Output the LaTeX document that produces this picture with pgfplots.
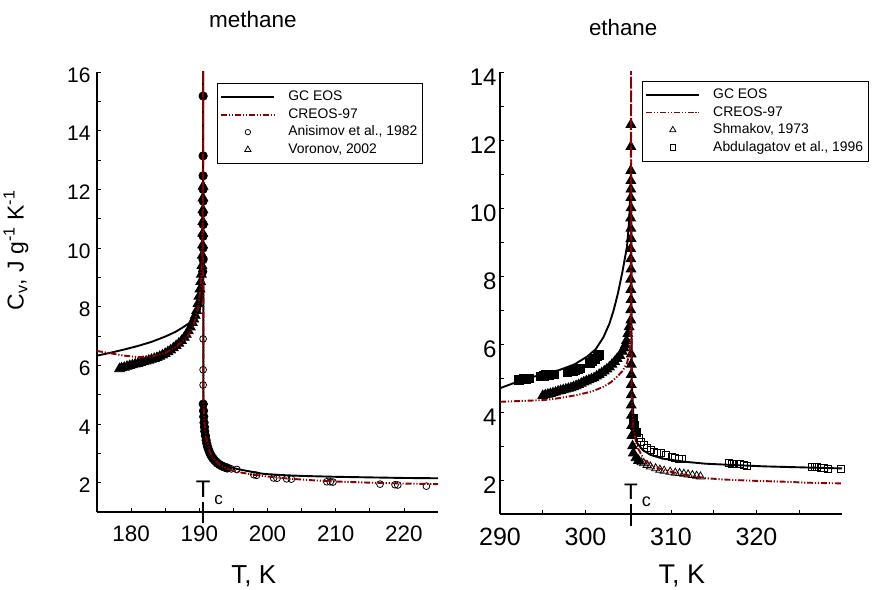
\documentclass[border=0pt]{standalone}
\usepackage{pgfplots}
\pgfplotsset{compat=1.18}
\usepackage{fontspec}
\setmainfont{Liberation Sans}
\definecolor{creos}{RGB}{140,0,0}
\begin{document}
\begin{tikzpicture}
\path[use as bounding box] (0pt,0pt) rectangle (875pt,589pt);
\pgfplotsset{
  every axis/.append style={
    scale only axis, axis lines=left, axis line style={-, line width=1.6pt},
    tick align=inside, major tick length=4pt, minor tick length=4pt,
    every tick/.style={line width=0.8pt, black},
    clip mode=individual,
    /pgf/number format/assume math mode=true,
    legend cell align=left,
    legend image code/.code={\draw[mark repeat=2,mark phase=2,##1] plot coordinates {(0pt,0pt) (26.5pt,0pt) (53pt,0pt)};},
  },
  gc/.style={black, line width=1.9pt, mark=none},
  cr/.style={creos, line width=1.9pt, mark=none, dash pattern=on 6pt off 1.8pt on 1.2pt off 1.8pt on 1.2pt off 1.8pt},
  circ/.style={only marks, mark=o, mark size=3.4pt, mark options={line width=0.8pt, black}, black},
  tri/.style={only marks, mark=triangle, mark size=4.7pt, mark options={line width=0.8pt, black}, black},
  sq/.style={only marks, mark=square, mark size=3.5pt, mark options={line width=0.8pt, black}, black},
  fcirc/.style={only marks, mark=*, mark size=4.2pt, mark options={line width=0.8pt, draw=black, fill=black}, black},
  ftri/.style={only marks, mark=triangle*, mark size=5.6pt, mark options={line width=0.8pt, draw=black, fill=black}, black},
  fsq/.style={only marks, mark=square*, mark size=4.3pt, mark options={line width=0.8pt, draw=black, fill=black}, black},
  leg/.style={draw=black, line width=0.8pt, font=\fontsize{13.9}{16}\selectfont,
    inner xsep=3pt, inner ysep=5pt, row sep=0pt,
    nodes={inner ysep=2pt, text height=10.5pt, text depth=3pt}},
}
% ---------------- methane ----------------
\begin{axis}[
  at={(97pt,77pt)}, anchor=south west, width=341pt, height=440pt,
  xmin=175, xmax=225, ymin=1, ymax=16,
  xtick={180,190,200,210,220}, minor xtick={185,195,205,215},
  ytick={2,4,...,16}, minor ytick={3,5,...,15},
  xticklabel style={font=\fontsize{22.4}{24}\selectfont, yshift=-10.5pt},
  yticklabel style={font=\fontsize{21}{24}\selectfont, xshift=-3pt, yshift=-3pt},
  title={methane}, title style={at={(axis description cs:0.457,1.105)}, anchor=center, font=\fontsize{22.5}{24}\selectfont},
  xlabel={T, K}, xlabel style={at={(axis description cs:0.46,-0.1636)}, anchor=base, font=\fontsize{26}{28}\selectfont},
  ylabel={C\textsubscript{v}, J g\textsuperscript{-1} K\textsuperscript{-1}},
  ylabel style={at={(axis description cs:-0.2375,0.595)}, anchor=center, font=\fontsize{23}{26}\selectfont},
  legend style={leg, at={(0.352,0.975)}, anchor=north west},
]
\addlegendimage{gc}\addlegendentry{\hspace{11pt}GC EOS}
\addlegendimage{cr}\addlegendentry{\hspace{11pt}CREOS-97}
\addlegendimage{circ, mark size=2.7pt}\addlegendentry{\hspace{11pt}Anisimov et al., 1982}
\addlegendimage{tri, mark size=3.6pt}\addlegendentry{\hspace{11pt}Voronov, 2002}
% Voronov, 2002 (dense, overlapping)
\addplot[ftri, forget plot] coordinates {
(178.3,5.88)(178.6,5.91)(179.0,5.93)(179.4,5.96)(179.8,5.99)(180.2,6.01)(180.6,6.04)(181.0,6.06)
(181.4,6.09)(181.8,6.12)(182.2,6.14)(182.6,6.17)(183.0,6.20)(183.4,6.23)(183.8,6.26)(184.2,6.30)
(184.6,6.35)(185.0,6.40)(185.4,6.46)(185.8,6.52)(186.2,6.59)(186.6,6.67)(187.0,6.75)(187.4,6.84)
(187.8,6.95)(188.1,7.05)(188.4,7.17)(188.7,7.30)(189.0,7.45)(189.2,7.57)(189.4,7.70)(189.6,7.86)
(189.8,8.10)(189.95,8.35)(190.1,8.60)(190.2,8.85)(190.3,9.10)(190.38,9.40)(190.44,9.75)(190.48,10.1)
(190.5,10.5)(190.52,10.9)(190.53,11.3)(190.54,11.7)(190.55,12.1)
};
% Anisimov et al., 1982 (dense part)
\addplot[fcirc, forget plot] coordinates {
(190.56,15.18)(190.56,13.14)(190.56,12.46)(190.56,12.0)(190.57,11.6)(190.55,11.2)(190.57,10.8)
(190.56,10.4)(190.55,10.0)(190.55,9.6)(190.5,9.2)(190.58,4.68)
(190.62,4.45)(190.65,4.25)(190.7,4.05)(190.75,3.9)(190.8,3.75)(190.9,3.6)(191.0,3.45)(191.1,3.33)
(191.2,3.23)(191.35,3.13)(191.5,3.04)(191.65,2.96)(191.8,2.90)(192.0,2.83)(192.2,2.77)(192.45,2.71)
(192.7,2.66)(193.0,2.61)(193.3,2.57)(193.7,2.53)(194.1,2.50)
};
% Anisimov et al., 1982 (separate points)
\addplot[circ, forget plot] coordinates {
(190.56,6.9)(190.56,5.85)(190.56,5.33)(194.7,2.47)(195.5,2.45)
(198.0,2.27)(198.4,2.25)(200.9,2.16)(201.4,2.15)(202.8,2.13)(203.5,2.12)(208.7,2.03)(209.2,2.03)
(209.6,2.02)(216.5,1.95)(218.7,1.93)(219.1,1.92)(223.3,1.88)
};
% GC EOS
\addplot[gc, forget plot] coordinates {
(175,6.33)(177,6.43)(179,6.54)(181,6.66)(183,6.80)(185,6.98)(186.5,7.14)(187.5,7.28)(188.6,7.45)
(189.5,7.65)(190.1,7.90)(190.35,8.4)(190.48,9.5)(190.54,12)(190.56,17)(190.6,4.7)(190.7,4.25)
(190.8,3.95)(191.0,3.6)(191.3,3.28)(191.7,3.04)(192.2,2.86)(193,2.69)(194,2.57)(195.5,2.47)
(197,2.40)(199.4,2.30)(202,2.26)(205,2.23)(210,2.20)(215,2.18)(220,2.16)(225,2.15)
};
% CREOS-97
\addplot[cr, forget plot] coordinates {
(175,6.49)(177,6.41)(179,6.33)(181,6.28)(183,6.30)(185,6.42)(186.5,6.62)(188.2,6.94)(189.2,7.40)
(189.8,7.95)(190.2,8.7)(190.4,9.7)(190.5,11.3)(190.55,14)(190.56,17)(190.6,5.0)(190.7,4.3)
(190.8,3.95)(191,3.55)(191.5,3.08)(192,2.84)(193,2.60)(194.5,2.44)(196,2.35)(198,2.27)(200,2.21)
(203,2.14)(206,2.09)(210,2.04)(215,2.00)(220,1.97)(225,1.95)
};
\draw[line width=1.5pt] (axis cs:190.56,0.615) -- (axis cs:190.56,1.35);
\node[anchor=base, font=\fontsize{24}{24}\selectfont, inner sep=0pt] at (axis cs:190.56,1.51)
  {T\rlap{\hspace{4pt}\raisebox{-7pt}{\fontsize{17}{17}\selectfont c}}};
\end{axis}
% ---------------- ethane ----------------
\begin{axis}[
  at={(500pt,75pt)}, anchor=south west, width=342pt, height=442pt,
  xmin=290, xmax=330, ymin=1, ymax=14,
  xtick={290,300,310,320}, minor xtick={295,315,325},
  ytick={2,4,...,14}, minor ytick={3,5,...,13},
  xticklabel style={font=\fontsize{25}{27}\selectfont, yshift=-10.7pt},
  yticklabel style={font=\fontsize{24}{26}\selectfont, xshift=0pt, yshift=-5pt},
  title={ethane}, title style={at={(axis description cs:0.36,1.088)}, anchor=center, font=\fontsize{22.3}{24}\selectfont},
  xlabel={T, K}, xlabel style={at={(axis description cs:0.532,-0.158)}, anchor=base, font=\fontsize{27}{29}\selectfont},
  legend style={leg, at={(0.415,0.98)}, anchor=north west},
]
\addlegendimage{gc}\addlegendentry{\hspace{11pt}GC EOS}
\addlegendimage{cr}\addlegendentry{\hspace{11pt}CREOS-97}
\addlegendimage{tri, mark size=3.6pt}\addlegendentry{\hspace{11pt}Shmakov, 1973}
\addlegendimage{sq, mark size=2.8pt}\addlegendentry{\hspace{11pt}Abdulagatov et al., 1996}
% Shmakov, 1973 (dense part)
\addplot[ftri, forget plot] coordinates {
(295.0,4.48)(295.3,4.50)(295.6,4.52)(295.9,4.54)(296.2,4.56)(296.5,4.58)(296.8,4.61)(297.1,4.63)
(297.4,4.65)(297.7,4.67)(298.0,4.69)(298.3,4.71)(298.6,4.74)(298.9,4.77)(299.2,4.80)(299.5,4.84)
(299.8,4.88)(300.1,4.91)(300.4,4.94)(300.7,4.97)(301.0,5.00)(301.3,5.05)(301.6,5.10)(301.9,5.15)
(302.2,5.20)(302.5,5.26)(302.8,5.32)(303.1,5.40)(303.4,5.48)(303.7,5.57)(304.0,5.66)(304.3,5.78)
(304.5,5.88)(304.65,5.97)(304.8,6.10)(304.95,6.30)(305.1,6.5)
(305.3,6.7)(305.28,7.0)(305.32,7.3)(305.3,7.6)(305.28,7.9)(305.32,8.2)(305.3,8.5)(305.28,8.8)
(305.32,9.1)(305.3,9.4)(305.28,9.7)(305.32,10.0)(305.3,10.3)(305.3,10.55)(305.3,10.8)(305.3,11.1)
(305.3,11.8)(305.3,12.45)
(305.35,5.7)(305.35,5.4)(305.35,5.1)(305.35,4.8)(305.35,4.5)(305.35,4.2)(305.38,3.9)(305.4,3.6)
(305.42,3.3)(305.5,3.0)(305.6,2.79)(305.9,2.65)(306.2,2.57)
};
% Shmakov, 1973 (separate points)
\addplot[tri, forget plot] coordinates {
(306.5,2.52)(306.8,2.49)(307.2,2.44)
(307.6,2.39)(308.2,2.34)(308.7,2.30)(309.2,2.27)(309.9,2.24)(310.5,2.21)(311.0,2.20)(311.5,2.18)
(312.0,2.16)(312.5,2.14)(313.0,2.12)(313.45,2.10)
};
% Abdulagatov et al., 1996 (dense part)
\addplot[fsq, forget plot] coordinates {
(292.2,4.94)(292.5,4.96)(292.8,4.97)(293.1,4.98)(293.4,4.99)
(294.8,5.05)(295.1,5.07)(295.4,5.09)(295.7,5.09)(296.0,5.10)(296.3,5.10)
(297.9,5.17)(298.2,5.19)(298.5,5.21)(298.8,5.23)(299.1,5.26)(299.4,5.28)
(300.5,5.45)(300.8,5.50)(301.1,5.56)(301.4,5.63)(301.6,5.68)
(305.6,3.8)(305.7,3.6)(305.9,3.4)
};
% Abdulagatov et al., 1996 (separate points)
\addplot[sq, forget plot] coordinates {
(306.2,3.23)(306.5,3.12)(306.8,3.03)(307.2,2.95)(307.6,2.88)
(308.0,2.84)(308.4,2.81)(308.8,2.79)(309.4,2.74)(310.1,2.69)(310.5,2.66)(310.9,2.63)(311.3,2.61)
(316.8,2.49)(317.1,2.48)(317.4,2.48)(317.7,2.47)(318.1,2.46)(318.5,2.44)(318.9,2.42)
(326.5,2.39)(326.8,2.39)(327.1,2.38)(327.5,2.37)(327.9,2.36)(328.3,2.34)(329.9,2.34)
};
% GC EOS
\addplot[gc, forget plot] coordinates {
(290,4.70)(291.5,4.84)(293.1,4.99)(295,5.10)(297,5.24)(298.7,5.40)(300.2,5.63)(301.2,5.85)
(302.1,6.20)(302.8,6.60)(303.3,7.00)(303.8,7.50)(304.3,8.10)(304.85,8.86)(305.1,9.6)(305.25,10.5)
(305.32,11.3)(305.4,5.0)(305.6,3.9)(306.0,3.10)(306.7,2.88)(307.6,2.74)(309,2.63)(311.5,2.54)
(314,2.48)(317.35,2.44)(321,2.40)(324,2.38)(327.1,2.36)(330,2.34)
};
% CREOS-97
\addplot[cr, forget plot] coordinates {
(290,4.30)(292,4.32)(295.1,4.35)(297,4.41)(299,4.50)(300.7,4.60)(302.1,4.74)(303,4.88)(303.7,5.04)
(304.3,5.20)(304.85,5.43)(305.1,5.7)(305.25,6.2)(305.3,7.5)(305.32,14.5)(305.4,4.5)(305.6,3.5)
(306,3.0)(306.8,2.62)(307.6,2.45)(308.5,2.35)(310,2.24)(312,2.14)(314.2,2.05)(316.5,2.01)
(319.3,1.98)(323.2,1.95)(326,1.92)(330,1.90)
};
\draw[line width=1.5pt] (axis cs:305.32,0.66) -- (axis cs:305.32,1.3);
\node[anchor=base, font=\fontsize{22.4}{24}\selectfont, inner sep=0pt] at (axis cs:305.32,1.43)
  {T\rlap{\hspace{4pt}\raisebox{-6.7pt}{\fontsize{18}{18}\selectfont c}}};
\end{axis}
\end{tikzpicture}
\end{document}
